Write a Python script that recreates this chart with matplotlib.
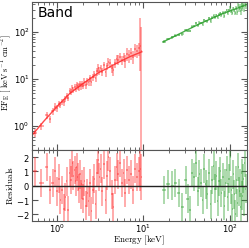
import numpy as np
import matplotlib
matplotlib.use('Agg')
import matplotlib.pyplot as plt

plt.rcParams['mathtext.fontset'] = 'cm'
plt.rcParams['axes.formatter.use_mathtext'] = True

# Red spectrum (low energy instrument)
red_e = [0.555, 0.66, 0.76, 0.83, 0.89, 0.95, 1.0, 1.05, 1.1, 1.15, 1.2, 1.25, 1.3, 1.35,
         1.4, 1.45, 1.5, 1.55, 1.6, 1.65, 1.7, 1.75, 1.8, 1.85, 1.9, 1.95, 2.0, 2.08, 2.16,
         2.24, 2.32, 2.4, 2.5, 2.6, 2.7, 2.8, 2.9, 3.0, 3.1, 3.2, 3.35, 3.5, 3.65, 3.8, 3.95,
         4.1, 4.3, 4.5, 4.7, 4.9, 5.1, 5.35, 5.6, 5.9, 6.2, 6.5, 6.8, 7.2, 7.6, 8.0, 8.5, 9.0]
red_de = [0.04, 0.045, 0.03, 0.03, 0.03, 0.025, 0.025, 0.025, 0.025, 0.025, 0.025, 0.025,
          0.025, 0.025, 0.025, 0.025, 0.025, 0.025, 0.025, 0.025, 0.025, 0.025, 0.025, 0.025,
          0.025, 0.025, 0.04, 0.04, 0.04, 0.04, 0.04, 0.05, 0.05, 0.05, 0.05, 0.05, 0.05,
          0.05, 0.05, 0.05, 0.075, 0.075, 0.075, 0.075, 0.075, 0.1, 0.1, 0.1, 0.1, 0.1, 0.13,
          0.13, 0.14, 0.15, 0.15, 0.15, 0.15, 0.2, 0.2, 0.22, 0.25, 0.25]
red_f = [0.72, 1.0, 1.7, 1.4, 2.1, 2.6, 2.4, 3.0, 2.8, 3.3, 3.2, 3.8, 4.4, 4.0, 5.6, 5.3, 6.6,
         6.0, 6.8, 6.3, 7.6, 7.0, 6.7, 8.0, 6.9, 7.9, 7.2, 8.8, 7.6, 9.0, 8.5, 10.5, 8.8, 11.0,
         12.8, 10.4, 14.5, 17.5, 15.2, 17.0, 14.2, 19.5, 13.8, 18.8, 23.5, 21.5, 17.0, 15.3,
         22.0, 27.0, 26.0, 29.5, 25.5, 30.0, 24.5, 34.5, 32.0, 36.0, 30.0, 43.0, 40.0, 45.0]
red_ferr = [0.13, 0.18, 0.31, 0.25, 0.38, 0.47, 0.36, 0.45, 0.42, 0.5, 0.48, 0.57, 0.66, 0.6,
            0.84, 0.8, 0.99, 0.9, 1.02, 0.95, 1.14, 1.05, 1.0, 1.2, 1.04, 1.19, 1.08, 1.6, 1.4,
            1.6, 1.5, 1.9, 1.6, 2.0, 2.3, 1.9, 2.6, 3.2, 2.7, 3.1, 2.6, 3.5, 2.5, 3.4, 4.2, 4.7,
            3.7, 3.4, 4.8, 5.9, 5.7, 6.5, 5.6, 6.6, 7.4, 10.4, 9.6, 10.8, 9.0, 12.9, 12.0, 13.5]
red_res = [1.0, 0.2, 1.3, -0.3, 0.2, 1.0, -0.4, 0.5, -1.0, -0.3, -1.6, -0.8, 0.3, -1.7, 0.9,
           0.4, 1.6, 0.7, 1.1, 0.3, 1.3, 0.6, -0.2, 0.8, -0.6, 0.1, -0.9, 0.3, -1.4, -0.5, -1.1,
           0.2, -1.8, -0.3, 0.5, -1.3, 0.9, 1.8, 0.6, 1.2, -0.4, 1.5, -1.0, 0.7, 2.0, 1.0, -0.6,
           -1.5, 0.4, 1.3, 0.8, 1.6, 0.2, 0.9, -0.5, 1.1, 0.4, 0.8, -0.3, 1.2, 0.6, 1.0]

# the badly constrained bins near 9 keV
spike_e = [9.2, 9.45]
spike_de = [0.15, 0.15]
spike_f = [50.0, 40.0]
spike_lo = [15.0, 0.2]
spike_hi = [200.0, 130.0]
spike_res = [1.2, 0.6]

# Green spectrum (high energy instrument)
green_e = [17.5, 19.5, 21.6, 23.5, 25.5, 28.2, 30.8, 32.5, 34.5, 36.5, 38.6, 40.5, 42.5, 44.5,
           46.5, 48.5, 50.5, 52.5, 55, 57.5, 60, 62.5, 65, 67.5, 70, 72.5, 75, 77.5, 80, 83, 86,
           89, 92, 95, 98, 101, 104, 107, 110, 113, 116, 119, 122, 125, 128, 131, 134, 137, 140,
           143, 146, 149, 152]
green_de = [1.0, 1.0, 1.0, 1.0, 1.2, 1.3, 1.0, 1.0, 1.0, 1.0, 1.0, 1.0, 1.0, 1.0, 1.0, 1.0,
            1.0, 1.0, 1.25, 1.25, 1.25, 1.25, 1.25, 1.25, 1.25, 1.25, 1.25, 1.25, 1.5, 1.5, 1.5,
            1.5, 1.5, 1.5, 1.5, 1.5, 1.5, 1.5, 1.5, 1.5, 1.5, 1.5, 1.5, 1.5, 1.5, 1.5, 1.5, 1.5,
            1.5, 1.5, 1.5, 1.5, 1.5]
green_f = [62.6, 70.7, 77.1, 84.3, 86.9, 89.4, 109.0, 105.8, 106.0, 130.9, 135.4, 151.8, 138.6,
           157.0, 156.5, 148.5, 178.9, 171.5, 169.4, 194.8, 172.4, 201.6, 222.2, 205.8, 225.4,
           204.2, 232.1, 249.7, 229.2, 259.5, 220.4, 262.9, 290.4, 250.7, 288.4, 332.6, 279.8,
           251.0, 320.4, 288.1, 254.2, 326.9, 270.9, 381.6, 314.5, 345.9, 275.6, 388.4, 320.8,
           381.5, 311.4, 445.3, 363.9]
green_ferr = [3.8, 4.2, 4.6, 5.0, 5.3, 5.9, 6.4, 6.7, 7.1, 7.5, 7.8, 9.6, 10.0, 10.4, 10.8, 11.2,
              11.6, 11.9, 12.4, 12.8, 13.3, 13.7, 14.2, 14.6, 15.0, 15.5, 15.9, 16.3, 21.6, 22.2,
              22.7, 23.2, 23.8, 24.3, 24.8, 25.4, 25.9, 26.4, 26.9, 27.4, 27.9, 28.4, 41.7, 42.4,
              43.1, 43.8, 44.5, 45.2, 45.9, 46.6, 47.2, 47.9, 48.6]
green_res = [-0.3, 0.1, 0.0, 0.2, -0.5, -1.5, 0.4, -0.9, -1.7, 0.9, 0.6, 1.6, -0.4, 0.8, 0.2,
             -1.0, 1.2, 0.1, -0.6, 0.9, -1.3, 0.4, 1.4, -0.2, 0.7, -1.1, 0.3, 1.0, -0.5, 0.6,
             -1.4, 0.2, 1.1, -0.8, 0.5, 2.0, -0.3, -1.6, 0.8, -0.6, -2.0, 0.4, -1.2, 1.3, -0.4,
             0.2, -1.5, 0.9, -0.7, 0.5, -1.1, 1.6, -0.2]

# Band model curves
red_model_e = [0.51, 0.7, 1.0, 1.4, 2.0, 3.0, 5.0, 7.0, 9.6]
red_model_f = [0.62, 1.25, 2.6, 4.9, 8.0, 13.5, 22.0, 30.0, 38.0]
green_model_e = [17.0, 25.0, 46.0, 80.0, 153.0]
green_model_f = [62.0, 88.0, 153.0, 240.0, 375.0]

red = '#ff2a2a'
green = '#2ca02c'
frame = '#555555'

fig = plt.figure(figsize=(2.49, 2.48), dpi=100)
ax1 = fig.add_axes([0.127, 0.395, 0.865, 0.597])
ax2 = fig.add_axes([0.127, 0.107, 0.865, 0.288], sharex=ax1)

eb = dict(fmt='none', elinewidth=1.1, alpha=0.5)
ax1.errorbar(red_e, red_f, xerr=red_de, yerr=red_ferr, ecolor=red, **eb)
sp_f = np.array(spike_f)
ax1.errorbar(spike_e, spike_f, xerr=spike_de,
             yerr=[sp_f - np.array(spike_lo), np.array(spike_hi) - sp_f], ecolor=red, **eb)
ax1.errorbar(green_e, green_f, xerr=green_de, yerr=green_ferr, ecolor=green, **eb)
ax1.plot(red_model_e, red_model_f, color=red, lw=1, alpha=0.85)
ax1.plot(green_model_e, green_model_f, color=green, lw=1, alpha=0.85)

ax2.errorbar(red_e, red_res, xerr=red_de, yerr=1, ecolor=red, **eb)
ax2.errorbar(spike_e, spike_res, xerr=spike_de, yerr=1.6, ecolor=red, **eb)
ax2.errorbar(green_e, green_res, xerr=green_de, yerr=1, ecolor=green, **eb)
ax2.axhline(0, color='#222222', lw=1)

ax1.set_xscale('log')
ax1.set_yscale('log')
ax1.set_xlim(0.51, 158)
ax1.set_ylim(0.31, 435)
ax2.set_ylim(-2.5, 2.5)
ax2.set_yticks([-2, -1, 0, 1, 2])

ax1.text(0.03, 0.97, 'Band', transform=ax1.transAxes, fontsize=10,
         va='top', ha='left', family='DejaVu Sans')
ax1.set_ylabel(r'$\mathrm{EF_E\ [\ keV\ s^{-1}\ cm^{-2}]}$', fontsize=6)
ax2.set_ylabel(r'$\mathrm{Residuals}$', fontsize=6.5)
ax2.set_xlabel(r'$\mathrm{Energy\ [keV]}$', fontsize=6.5)
ax1.yaxis.set_label_coords(-0.118, 0.52)
ax2.yaxis.set_label_coords(-0.105, 0.5)
# x label sits on the bottom edge of the figure
ax2.xaxis.set_label_coords(0.5595, 1.0 / 248, transform=fig.transFigure)
ax1.yaxis.label.set_va('center')
ax2.yaxis.label.set_va('center')
ax2.xaxis.label.set_va('bottom')

for ax in (ax1, ax2):
    ax.tick_params(which='both', direction='in', top=True, right=True,
                   labelsize=6, color=frame, pad=1.5)
    ax.tick_params(which='major', length=4)
    ax.tick_params(which='minor', length=2)
    for s in ax.spines.values():
        s.set_color(frame)
ax2.tick_params(axis='x', pad=0.5)
plt.setp(ax1.get_xticklabels(), visible=False)

fig.savefig('out.png', dpi=100)
